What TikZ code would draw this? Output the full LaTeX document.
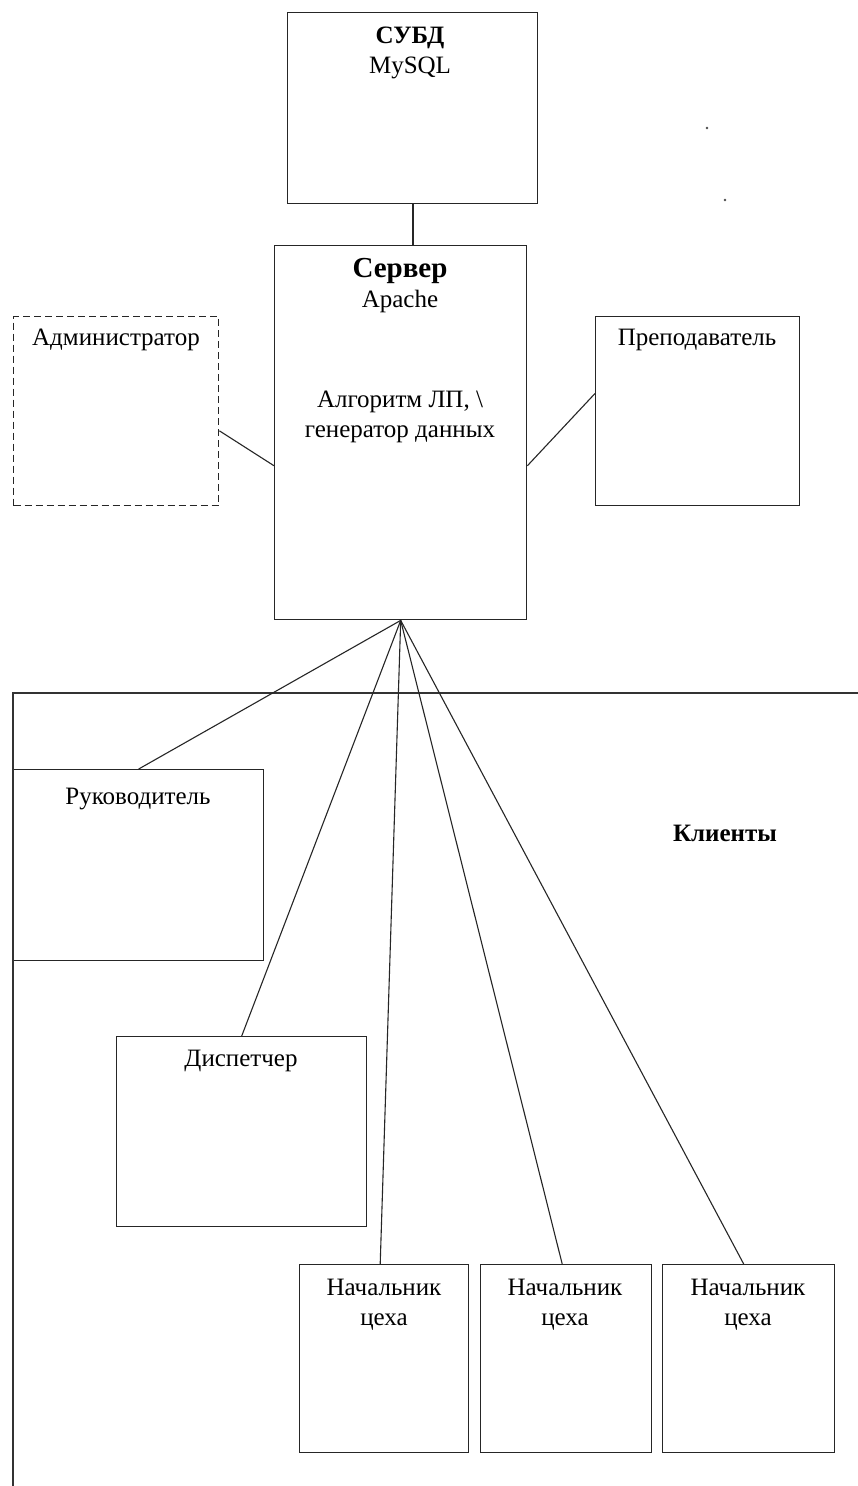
\documentclass[tikz,border=0pt]{standalone}
\usepackage{fontspec}
\setmainfont{Liberation Serif}
\usetikzlibrary{calc}
\begin{document}
\begin{tikzpicture}[x=1pt,y=-1pt,
  box/.style={draw=black!85,line width=1.4pt,rectangle,inner sep=0pt,anchor=north west},
  dbox/.style={box,dash pattern=on 7pt off 4pt},
  txt/.style={inner sep=0pt,align=center,font=\fontsize{25}{30}\selectfont},
  btxt/.style={txt,font=\fontsize{25}{30}\selectfont\bfseries},
  conn/.style={draw=black!85,line width=1.1pt}]
\useasboundingbox (0,0) rectangle (858,1486);
\fill[white] (0,0) rectangle (858,1486);
% boxes
\node[box,minimum width=250pt,minimum height=191pt] (subd) at (287,12) {};
\node[box,minimum width=252pt,minimum height=374pt] (srv) at (274,245) {};
\node[dbox,minimum width=205pt,minimum height=189pt] (adm) at (13,316) {};
\node[box,minimum width=204pt,minimum height=189pt] (prep) at (595,316) {};
\node[box,minimum width=250pt,minimum height=191pt] (ruk) at (13,769) {};
\node[box,minimum width=250pt,minimum height=190pt] (disp) at (116,1036) {};
\node[box,minimum width=169pt,minimum height=188pt] (nc1) at (299,1264) {};
\node[box,minimum width=171pt,minimum height=188pt] (nc2) at (480,1264) {};
\node[box,minimum width=172pt,minimum height=188pt] (nc3) at (662,1264) {};
% texts
\node[btxt] (t-subd) at (410,38) {СУБД};
\node[txt] (t-mysql) at (410,68) {MySQL};
\node[btxt,font=\fontsize{29}{30}\selectfont\bfseries] (t-srv) at (400,271) {Сервер};
\node[txt] (t-apache) at (400,301) {Apache};
\node[txt] (t-alg) at (400,417) {Алгоритм ЛП, \textbackslash\\генератор данных};
\node[txt] (t-adm) at (116,340) {Администратор};
\node[txt] (t-prep) at (697,340) {Преподаватель};
\node[txt] (t-ruk) at (138,799) {Руководитель};
\node[txt] (t-disp) at (241,1061) {Диспетчер};
\node[txt] (t-nc1) at (384,1305) {Начальник\\цеха};
\node[txt] (t-nc2) at (565,1305) {Начальник\\цеха};
\node[txt] (t-nc3) at (748,1305) {Начальник\\цеха};
\node[btxt] (t-kl) at (725,833) {Клиенты};
% clients frame
\draw[draw=black!80,line width=1.6pt] (13,1486) -- (13,693) -- (858,693);
% dots
\fill[black!70] (707,128) circle (1.3pt);
\fill[black!70] (725,200) circle (1.3pt);
% connectors
\coordinate (sb) at (srv.south);
\draw[conn] (subd.south -| 413,0) -- (srv.north -| 413,0);
\draw[conn] ($(adm.south east)!0.397!(adm.north east)$) -- ($(srv.south west)!0.412!(srv.north west)$);
\draw[conn] ($(prep.south west)!0.593!(prep.north west)$) -- ($(srv.south east)!0.412!(srv.north east)$);
\draw[conn] (sb) -- (ruk.north);
\draw[conn] (sb) -- (disp.north);
\draw[conn] (sb) -- ($(nc1.north)+(-4,0)$);
\draw[conn] (sb) -- ($(nc2.north)+(-4,0)$);
\draw[conn] (sb) -- ($(nc3.north)+(-5,0)$);
\end{tikzpicture}
\end{document}
